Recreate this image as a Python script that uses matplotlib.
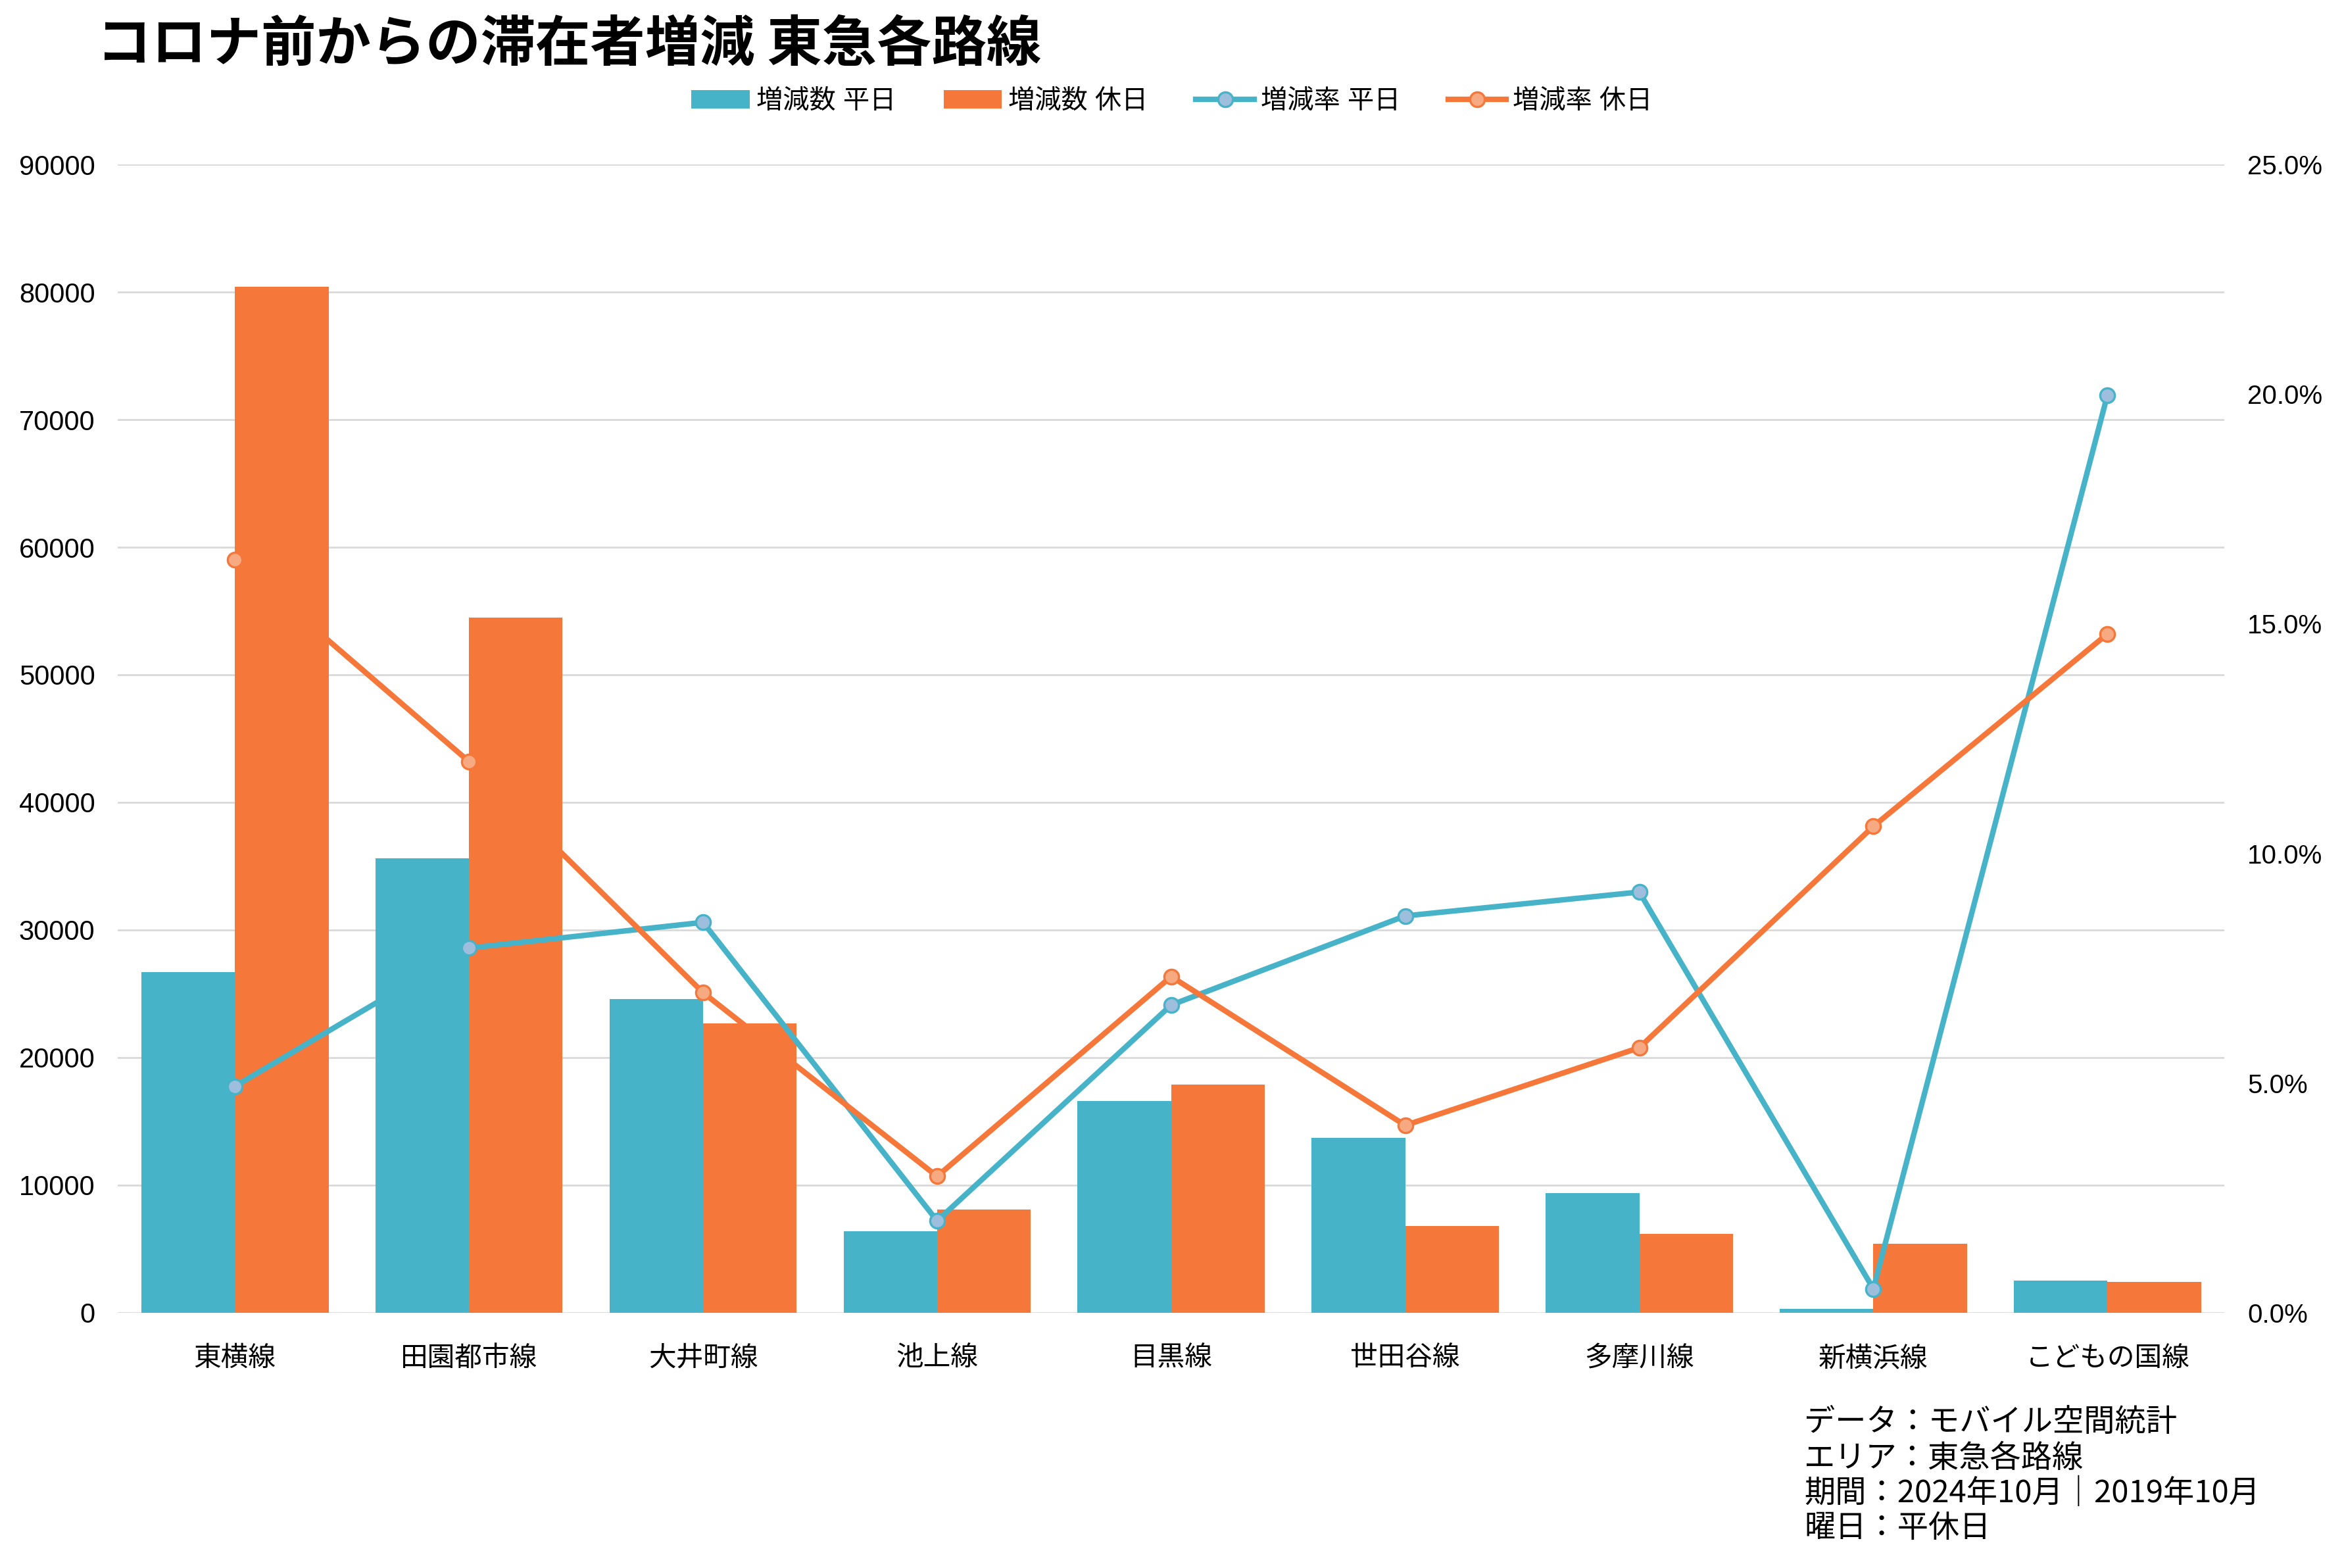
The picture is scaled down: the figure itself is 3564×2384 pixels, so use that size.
"""
コロナ前（2019年10月）からの滞在者増減を東急各路線ごとに比較する複合グラフ。
棒 = 増減数（左軸）、折れ線 = 増減率（右軸）。平日 / 休日 の2系列。
"""

import matplotlib
matplotlib.use("Agg")
import matplotlib.pyplot as plt
from matplotlib.ticker import FuncFormatter

plt.rcParams["font.family"] = ["Liberation Sans", "Noto Sans CJK JP"]

# --- データ ---
路線 = ["東横線", "田園都市線", "大井町線", "池上線", "目黒線",
        "世田谷線", "多摩川線", "新横浜線", "こどもの国線"]
増減数_平日 = [26700, 35600, 24600, 6400, 16600, 13700, 9400, 300, 2500]
増減数_休日 = [80400, 54500, 22700, 8100, 17900, 6800, 6200, 5400, 2400]
増減率_平日 = [4.93, 7.94, 8.50, 2.00, 6.70, 8.64, 9.16, 0.52, 19.98]
増減率_休日 = [16.39, 12.00, 6.97, 2.97, 7.32, 4.08, 5.77, 10.59, 14.78]

注記 = ["データ：モバイル空間統計",
        "エリア：東急各路線",
        "期間：2024年10月｜2019年10月",
        "曜日：平休日"]

TEAL, ORANGE = "#46B3C8", "#F5773A"
TEAL_FACE, ORANGE_FACE = "#9DBEDD", "#F7AA82"
GRID = "#D9D9D9"

fig = plt.figure(figsize=(17.82, 11.92), dpi=200)
ax = fig.add_axes([0.0503, 0.1628, 0.8987, 0.7323])

x = range(len(路線))
w = 0.4
ax.bar([i - w / 2 for i in x], 増減数_平日, width=w, color=TEAL, label="増減数 平日", zorder=2)
ax.bar([i + w / 2 for i in x], 増減数_休日, width=w, color=ORANGE, label="増減数 休日", zorder=2)

ax.set_xlim(-0.5, len(路線) - 0.5)
ax.set_ylim(0, 90000)
ax.set_yticks(range(0, 90001, 10000))
ax.set_xticks(list(x))
ax.set_xticklabels(路線, fontsize=15)
ax.grid(axis="y", color=GRID, linewidth=1.0, zorder=0)
ax.set_axisbelow(True)
ax.tick_params(axis="y", length=0, pad=12.5, labelsize=15)
ax.tick_params(axis="x", length=0, pad=18)
for s in ax.spines.values():
    s.set_visible(False)

ax2 = ax.twinx()
ax2.plot(x, 増減率_平日, color=TEAL, linewidth=3.0, marker="o", markersize=8,
         markerfacecolor=TEAL_FACE, markeredgecolor=TEAL, markeredgewidth=1.2,
         label="増減率 平日", zorder=3)
ax2.plot(x, 増減率_休日, color=ORANGE, linewidth=3.0, marker="o", markersize=8,
         markerfacecolor=ORANGE_FACE, markeredgecolor=ORANGE, markeredgewidth=1.2,
         label="増減率 休日", zorder=3)
ax2.set_ylim(0, 25)
ax2.set_yticks(range(0, 26, 5))
ax2.yaxis.set_major_formatter(FuncFormatter(lambda v, _: f"{v:.1f}%"))
ax2.tick_params(axis="y", length=0, pad=12.5, labelsize=14.5)
for s in ax2.spines.values():
    s.set_visible(False)

h1, l1 = ax.get_legend_handles_labels()
h2, l2 = ax2.get_legend_handles_labels()
fig.legend(h1 + h2, l1 + l2, loc="center", bbox_to_anchor=(0.5, 0.9355),
           ncol=4, frameon=False, fontsize=14.5, handlelength=2.2,
           handleheight=0.7, handletextpad=0.25, columnspacing=1.8,
           numpoints=1)

fig.text(0.0412, 0.9715, "コロナ前からの滞在者増減 東急各路線",
         fontsize=30, fontweight="bold", ha="left", va="center",
         family=["Noto Sans CJK JP"])

for k, line in enumerate(注記):
    fig.text(0.7697, 1 - (2164 + 53.3 * k) / 2384, line, fontsize=17,
             ha="left", va="center", family=["Noto Sans CJK JP", "DejaVu Sans"])

fig.savefig("out.png", dpi=200)
